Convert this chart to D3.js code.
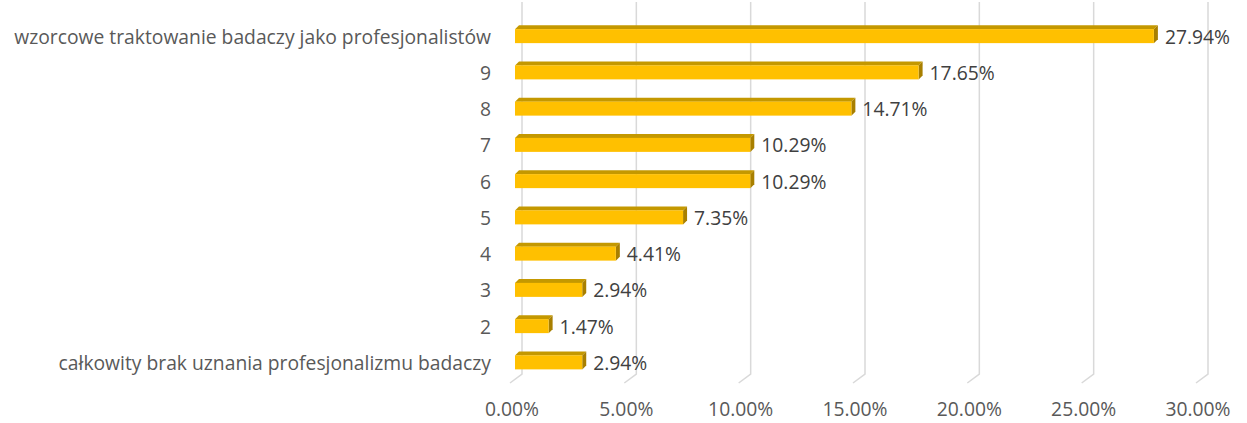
<!DOCTYPE html>
<html>
<head>
<meta charset="utf-8">
<script src="https://cdn.jsdelivr.net/npm/d3@7"></script>
<style>
  body { margin: 0; background: #fff; }
  #chart text { font-family: "Open Sans", "Noto Sans", sans-serif; }
</style>
</head>
<body>
<div id="chart"></div>
<script>
const categories = [
    "wzorcowe traktowanie badaczy jako profesjonalistów",
    "9", "8", "7", "6", "5", "4", "3", "2",
    "całkowity brak uznania profesjonalizmu badaczy"
]
const values = [27.94, 17.65, 14.71, 10.29, 10.29, 7.35, 4.41, 2.94, 1.47, 2.94]
const ticks = [0, 5, 10, 15, 20, 25, 30]

const width = 1247
const height = 423
const fontSize = "19.3px"

const svg = d3.select("#chart").append("svg")
    .attr("width", width)
    .attr("height", height)

// back wall scale (gridlines); front of floor and bars are shifted by the 3D depth
const x = d3.scaleLinear().domain([0, 30]).range([522, 1208])
const y = d3.scaleBand().domain(categories).range([18, 380.5]).padding(0)

const floorY = 374
const floorFrontY = 383
const floorDx = -12
const barDx = -7
const barH = 14
const depth = 4

// gridlines + floor diagonals
const grid = svg.append("g")
grid.selectAll("path")
    .data(ticks).join("path")
    .attr("d", d => `M${x(d)},2 L${x(d)},${floorY} L${x(d) + floorDx},${floorFrontY}`)
    .attr("fill", "none")
    .attr("stroke", "#d9d9d9")
    .attr("stroke-width", 1.5)

// x tick labels
svg.append("g").selectAll("text")
    .data(ticks).join("text")
    .attr("x", d => x(d) - 10)
    .attr("y", 416)
    .attr("text-anchor", "middle")
    .attr("fill", "#595959")
    .style("font-size", fontSize)
    .text(d => d.toFixed(2) + "%")

// category labels
svg.append("g").selectAll("text")
    .data(categories).join("text")
    .attr("x", 491)
    .attr("y", d => y(d) + y.bandwidth() / 2 + 7.5)
    .attr("text-anchor", "end")
    .attr("fill", "#595959")
    .style("font-size", fontSize)
    .text(d => d)

// bars
const bars = svg.append("g").selectAll("g")
    .data(categories.map((c, i) => ({cat: c, value: values[i]})))
    .join("g")

bars.each(function (d) {
    const g = d3.select(this)
    const x0 = x(0) + barDx
    const x1 = x(d.value) + barDx
    const top = y(d.cat) + y.bandwidth() / 2 - barH / 2
    const bottom = top + barH
    // top face
    g.append("path")
        .attr("d", `M${x0},${top} L${x0 + depth},${top - depth} L${x1 + depth},${top - depth} L${x1},${top} Z`)
        .attr("fill", "#c49800")
    // side face
    g.append("path")
        .attr("d", `M${x1},${top} L${x1 + depth},${top - depth} L${x1 + depth},${bottom - depth} L${x1},${bottom} Z`)
        .attr("fill", "#a87f00")
    // front face
    g.append("rect")
        .attr("x", x0)
        .attr("y", top)
        .attr("width", x1 - x0)
        .attr("height", barH)
        .attr("fill", "#ffc000")
    g.append("text")
        .attr("x", x1 + depth + 7)
        .attr("y", top + barH / 2 + 7.5)
        .attr("fill", "#404040")
        .style("font-size", fontSize)
        .text(d.value.toFixed(2) + "%")
})
</script>
</body>
</html>
